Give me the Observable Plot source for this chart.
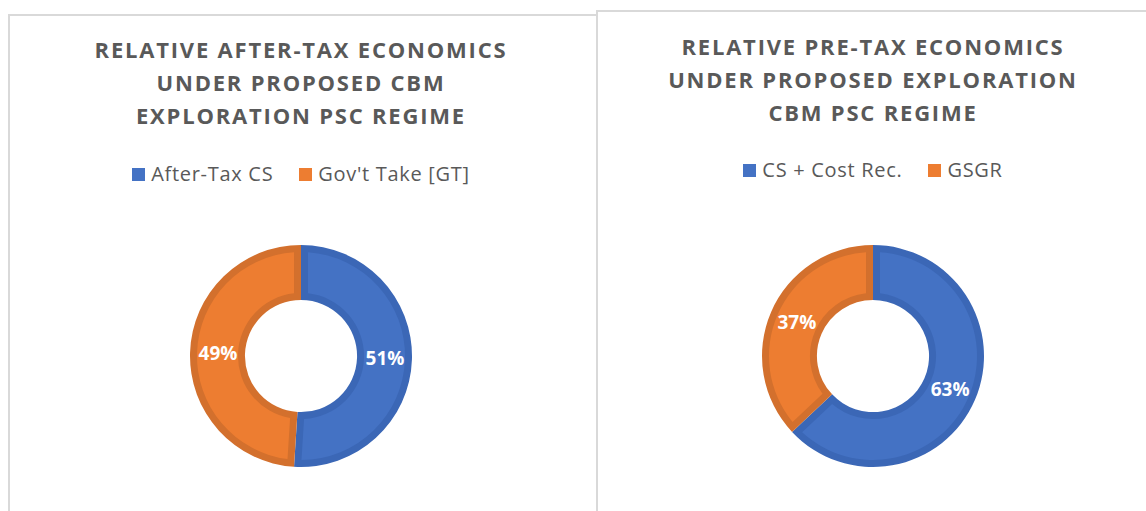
<!DOCTYPE html>
<html><head><meta charset="utf-8">
<script src="https://cdn.jsdelivr.net/npm/d3@7"></script>
<script src="https://cdn.jsdelivr.net/npm/@observablehq/plot@0.6"></script>
<style>
html,body{margin:0;padding:0;background:#fff;}
body{width:1146px;height:511px;overflow:hidden;position:relative;font-family:"Open Sans",sans-serif;}
.panel{position:absolute;border:2px solid #d9d9d9;background:#fff;box-sizing:border-box;}
.title{position:absolute;width:600px;text-align:center;font-weight:700;color:#595959;font-size:22px;line-height:33px;letter-spacing:1.8px;white-space:nowrap;}
.legend{position:absolute;width:600px;display:flex;justify-content:center;align-items:center;color:#595959;font-size:20px;line-height:24px;letter-spacing:0.7px;white-space:nowrap;}
.legend .item{display:flex;align-items:center;margin:0 13px;}
.legend .sw{width:13px;height:13px;margin-right:6px;display:inline-block;}
.chart{position:absolute;}
</style>
</head><body>
<div class="panel" style="left:8px;top:14px;width:590px;height:520px;"></div>
<div class="panel" style="left:596px;top:10px;width:600px;height:520px;"></div>
<div id="root"></div>
<script>
// ---- data ----
const leftTitle = ["RELATIVE AFTER-TAX ECONOMICS", "UNDER PROPOSED CBM", "EXPLORATION PSC REGIME"];
const leftLabels = ["After-Tax CS", "Gov't Take [GT]"];
const leftValues = [51, 49];

const rightTitle = ["RELATIVE PRE-TAX ECONOMICS", "UNDER PROPOSED EXPLORATION", "CBM PSC REGIME"];
const rightLabels = ["CS + Cost Rec.", "GSGR"];
const rightValues = [63, 37];

// ---- styles ----
const fills = ["#4472C4", "#ED7D31"];
const bands = ["#3B67B6", "#D3702D"];

const root = document.getElementById("root");

function donut(labels, values) {
  const total = d3.sum(values);
  const rows = labels.map((label, i) => ({label, value: values[i], i}));
  const arcs = d3.pie().sort(null).value(d => d.value)(rows);
  const R = 1, r0 = 0.505, rm = (R + r0) / 2;
  const labelRows = arcs.map(a => {
    const mid = (a.startAngle + a.endAngle) / 2;
    return {text: Math.round(a.data.value / total * 100) + "%", lx: rm * Math.sin(mid), ly: rm * Math.cos(mid)};
  });
  const ringMark = (index, scales) => {
    const cx = scales.x(0), cy = scales.y(0), k = scales.x(1) - scales.x(0);
    const g = d3.create("svg:g").attr("transform", `translate(${cx},${cy})`);
    const outer = d3.arc().innerRadius(r0 * k).outerRadius(R * k);
    const inner = d3.arc().innerRadius(r0 * k + 7).outerRadius(R * k - 7).padRadius(100).padAngle(0.14);
    for (const a of arcs) {
      g.append("path").attr("d", outer(a)).attr("fill", bands[a.data.i]);
      g.append("path").attr("d", inner(a)).attr("fill", fills[a.data.i]);
    }
    return g.node();
  };
  return Plot.plot({
    width: 260, height: 260, margin: 0,
    x: {domain: [-1.1712, 1.1712], axis: null},
    y: {domain: [-1.1712, 1.1712], axis: null},
    style: {background: "transparent", overflow: "visible"},
    marks: [
      ringMark,
      Plot.text(labelRows, {x: "lx", y: "ly", text: "text", fill: "white", fontSize: 19, fontWeight: 700, fontFamily: "Open Sans"})
    ]
  });
}

function panel(cx, titleTop, legendTop, title, labels, values) {
  const t = document.createElement("div");
  t.className = "title";
  t.style.left = (cx - 300) + "px";
  t.style.top = titleTop + "px";
  t.innerHTML = title.map(s => s.replace(/&/g, "&amp;")).join("<br>");
  root.appendChild(t);

  const lg = document.createElement("div");
  lg.className = "legend";
  lg.style.left = (cx - 300) + "px";
  lg.style.top = legendTop + "px";
  labels.forEach((l, i) => {
    const it = document.createElement("span");
    it.className = "item";
    const sw = document.createElement("span");
    sw.className = "sw"; sw.style.background = fills[i];
    it.appendChild(sw);
    it.appendChild(document.createTextNode(l));
    lg.appendChild(it);
  });
  root.appendChild(lg);

  const c = document.createElement("div");
  c.className = "chart";
  c.style.left = (cx - 130) + "px";
  c.style.top = (356 - 130) + "px";
  c.appendChild(donut(labels, values));
  root.appendChild(c);
}

panel(301, 33, 162, leftTitle, leftLabels, leftValues);
panel(873, 30, 158, rightTitle, rightLabels, rightValues);
</script>
</body></html>
